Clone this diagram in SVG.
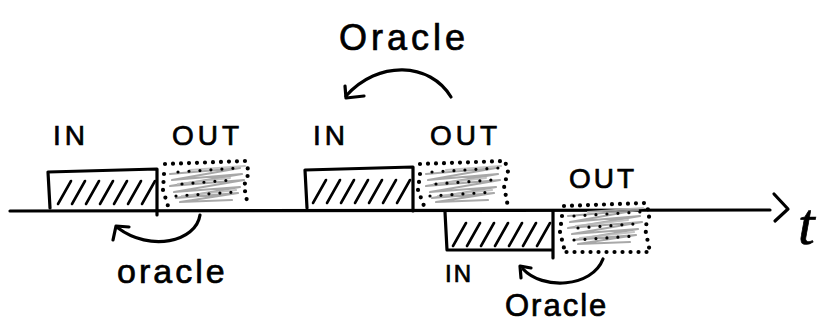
<svg xmlns="http://www.w3.org/2000/svg" width="823" height="326" viewBox="0 0 823 326">
<style>
.ink{fill:none;stroke:#000;stroke-width:3.2;stroke-linecap:round;stroke-linejoin:round}
.hatch{fill:none;stroke:#000;stroke-width:2.6;stroke-linecap:round}
.scrib{fill:none;stroke:#999;stroke-width:2.2;stroke-linecap:round;stroke-linejoin:round;opacity:0.85}
.dots{fill:none;stroke:#000;stroke-width:4.2;stroke-linecap:round;stroke-dasharray:0 8}
.dots2{fill:none;stroke:#000;stroke-width:3.2;stroke-linecap:round;stroke-dasharray:0 11}
.lbl{font-family:"Liberation Sans",Arial,sans-serif;fill:#000;stroke:#000;stroke-width:0.7}
</style>
<rect width="823" height="326" fill="#fff"/>
<defs>
<g id="hatch7">
<path class="hatch" d="M0,23 L13,0 M14,23 L27,0 M28,23 L41,0 M42,23 L55,0 M56,23 L69,0 M70,23 L83,0 M84,23 L97,0"/>
</g>
<g id="scribble">
<path class="scrib" d="M10,12 L80,6 L12,18 L82,12 L10,24 L84,18 L14,30 L80,25 L16,36 L78,31 L20,40 L72,38"/>
<path class="scrib" d="M30,8 L85,4 M22,34 L76,28 M18,22 L70,16" style="stroke:#bbb"/>
</g>
</defs>

<g id="connectors">
<path class="ink" d="M10,211 L770,210"/>
<path class="ink" d="M774,194 L788,209 L775,221"/>
<path class="ink" d="M200,215 C196,242 150,252 118,228"/>
<path class="ink" d="M113,240 L116,226 L129,227"/>
<path class="ink" d="M451,97 C430,62 378,60 346,96"/>
<path class="ink" d="M345,86 L346,98 L364,96"/>
<path class="ink" d="M603,259 C592,288 542,290 523,269"/>
<path class="ink" d="M521,278 L520,266 L531,268"/>
</g>

<g id="in1">
<path class="ink" d="M48,172 L157,169 L157,215 M48,172 L50,208"/>
<use href="#hatch7" x="58" y="181"/>
</g>
<g id="out1">
<use href="#scribble" x="160" y="162"/>
<path class="dots" d="M165,164 L245,161 L249,172 L244,186 L248,206"/>
<path class="dots" d="M164,174 L163,190 L168,206"/>
<path class="dots2" d="M178,172 L238,168 M182,184 L232,180 M176,196 L236,192"/>
</g>
<text class="lbl" x="53" y="145" font-size="28" letter-spacing="4">IN</text>
<text class="lbl" x="172" y="145" font-size="28" letter-spacing="4">OUT</text>
<text class="lbl" x="117" y="283" font-size="34" letter-spacing="3">oracle</text>

<g id="in2">
<path class="ink" d="M305,170 L413,167 L413,211 M305,170 L307,208"/>
<use href="#hatch7" x="313" y="180"/>
</g>
<g id="out2">
<use href="#scribble" x="416" y="162"/>
<path class="dots" d="M420,164 L505,161 L508,172 L504,186 L508,207"/>
<path class="dots" d="M420,174 L418,190 L424,206"/>
<path class="dots2" d="M432,172 L498,168 M436,184 L492,180 M430,196 L494,192"/>
</g>
<text class="lbl" x="313" y="145" font-size="28" letter-spacing="4">IN</text>
<text class="lbl" x="430" y="145" font-size="28" letter-spacing="4">OUT</text>
<text class="lbl" x="339" y="50" font-size="36" letter-spacing="4">Oracle</text>

<g id="in3">
<path class="ink" d="M445,212 L447,250 L553,250 M553,211 L553,258"/>
<use href="#hatch7" x="453" y="223"/>
</g>
<g id="out3">
<use href="#scribble" x="558" y="204"/>
<path class="dots" d="M564,206 L645,203 L650,214 L645,228 L650,252 L565,252"/>
<path class="dots" d="M562,216 L560,232 L564,248"/>
<path class="dots2" d="M574,216 L640,212 M578,228 L634,224 M574,240 L636,236"/>
</g>
<text class="lbl" x="569" y="188" font-size="28" letter-spacing="3">OUT</text>
<text class="lbl" x="445" y="282" font-size="24" letter-spacing="2">IN</text>
<text class="lbl" x="505" y="316" font-size="31" letter-spacing="2">Oracle</text>
<text class="lbl" x="798" y="244" font-size="60" font-style="italic" font-family="Liberation Serif,serif" style="font-family:'Liberation Serif',serif">t</text>
</svg>
